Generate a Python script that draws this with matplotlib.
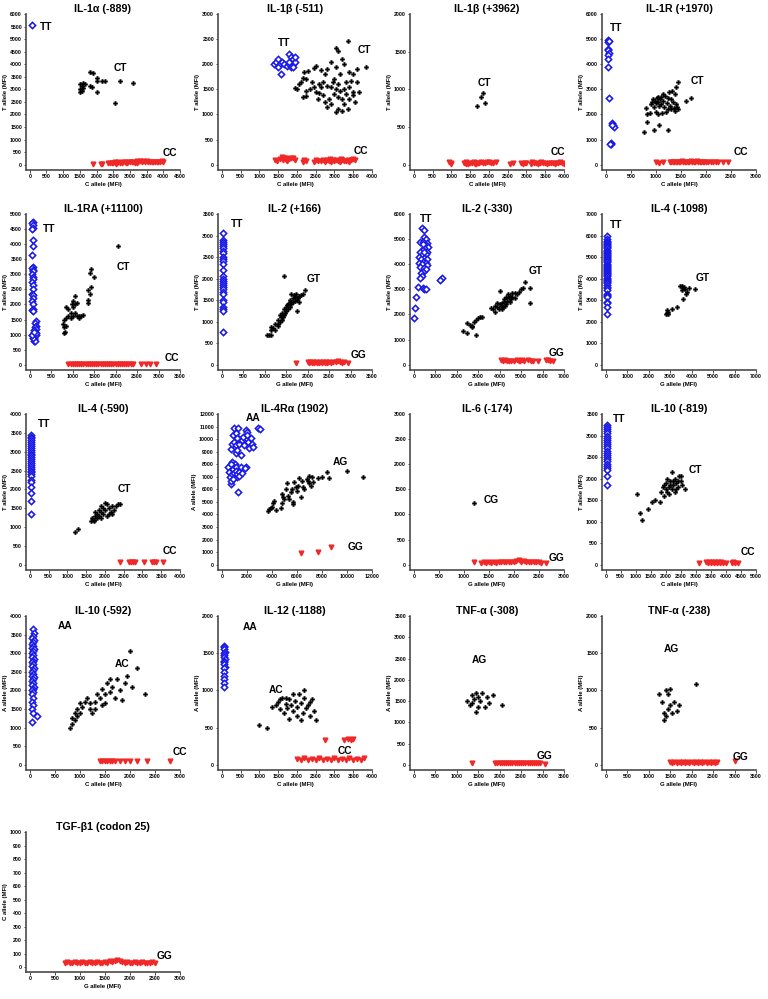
import matplotlib
matplotlib.use("Agg")
import matplotlib.pyplot as plt

plt.rcParams['font.family'] = ['Liberation Sans', 'DejaVu Sans']
plt.rcParams['font.weight'] = 'bold'

# ---------------- data ----------------
il1a_889_tt = [(80, 5550)]
il1a_889_ct = [(1800, 3700), (1900, 3650), (2000, 3450), (2000, 3350), (2150, 3350), (2250, 3320),
               (2700, 3330), (3100, 3270), (1500, 3200), (1550, 3150), (1600, 3250), (1650, 3200),
               (1500, 3000), (1550, 2950), (1500, 2880), (1800, 3150), (1850, 3100), (2000, 2880),
               (2550, 2450), (1600, 3050)]
il1a_889_cc = [(1880, 40), (2120, 40), (2150, 30), (2350, 70), (2400, 60), (2450, 80), (2500, 50), (2550, 90),
               (2600, 70), (2650, 100), (2700, 80), (2750, 60), (2800, 110), (2850, 90), (2900, 70), (2950, 100),
               (3000, 120), (3050, 90), (3100, 110), (3150, 80), (3200, 130), (3250, 100), (3300, 150), (3350, 120),
               (3400, 140), (3450, 110), (3500, 130), (3550, 100), (3600, 120), (3650, 90), (3700, 110), (3750, 100),
               (3800, 120), (3850, 90), (3900, 110), (3950, 130), (4000, 110), (2580, 40), (2880, 50), (3220, 60)]

il1b_511_tt = [(1400, 2000), (1450, 2050), (1500, 2100), (1550, 2000), (1580, 1800), (1600, 2050), (1650, 2000),
               (1500, 1950), (1750, 1970), (1780, 2000), (1800, 2200), (1850, 2150), (1900, 2100), (1900, 2000),
               (1850, 1950), (1950, 2050), (1800, 2050), (1900, 1950), (1950, 2150)]
il1b_511_ct = [(3370, 2470), (3050, 2320), (3100, 2270), (3200, 2100), (2900, 2050), (3250, 2000), (3050, 1950),
               (3850, 1940), (3600, 1900), (2500, 1960), (2450, 1920), (2300, 1870), (2200, 1850), (2800, 1900),
               (2650, 1880), (2750, 1800), (3400, 1850), (3500, 1800), (3150, 1800), (2150, 1720), (2250, 1700),
               (2100, 1650), (2050, 1600), (1950, 1520), (2000, 1500), (2400, 1650), (2700, 1650), (2600, 1600),
               (3000, 1700), (2950, 1650), (3300, 1650), (3450, 1660), (3600, 1650), (3100, 1600), (2350, 1500),
               (2250, 1470), (2500, 1450), (2600, 1420), (2800, 1560), (2900, 1550), (3050, 1500), (3150, 1470),
               (3250, 1500), (3500, 1450), (3650, 1450), (2150, 1350), (2250, 1370), (2700, 1380), (2850, 1300),
               (3000, 1400), (3100, 1350), (3200, 1300), (3400, 1300), (3500, 1380), (3550, 1250), (2800, 1150),
               (2900, 1200), (2750, 1250), (3050, 1050), (3100, 1100), (3200, 1070), (3350, 1100), (3250, 1200),
               (2650, 1550), (2550, 1300), (3400, 1550), (3300, 1400), (2450, 1550)]
il1b_511_cc = [(1430, 100), (1470, 80), (1550, 120), (1600, 150), (1650, 130), (1700, 100), (1750, 80), (1800, 110),
               (1850, 130), (1900, 140), (1950, 100), (2150, 60), (2200, 90), (2250, 70), (2450, 60), (2500, 100),
               (2550, 80), (2650, 80), (2700, 100), (2750, 60), (2800, 90), (2850, 80), (2900, 60), (2950, 90),
               (3000, 70), (3050, 100), (3100, 80), (3150, 60), (3200, 90), (3250, 80), (3300, 70), (3350, 100),
               (3400, 60), (3450, 90), (3500, 110), (3550, 100), (1620, 90), (1720, 140), (2880, 110), (3180, 110)]

il1b_3962_ct = [(1680, 780), (1800, 900), (1850, 950), (1900, 820)]
il1b_3962_cc = [(950, 40), (980, 20), (1000, 10), (1350, 20), (1400, 30), (1450, 15), (1500, 25), (1550, 20),
                (1600, 30), (1650, 15), (1700, 25), (1750, 20), (1800, 30), (1850, 20), (1900, 25), (1950, 40),
                (2000, 30), (2050, 20), (2100, 25), (2200, 30), (2550, 15), (2650, 20), (2850, 20), (2900, 15),
                (2950, 25), (3000, 20), (3150, 30), (3200, 20), (3250, 25), (3300, 15), (3350, 20), (3400, 30),
                (3450, 20), (3500, 25), (3550, 15), (3600, 20), (3650, 25), (3700, 20), (3750, 15), (3800, 25),
                (3850, 20), (3900, 30), (3950, 20), (4000, 15), (1380, 10), (1620, 10), (3120, 10)]

il1r_1970_tt = [(40, 4950), (50, 4900), (60, 4920), (50, 4600), (40, 4550), (60, 4450), (50, 4350), (50, 4200),
                (40, 3880), (60, 2650), (120, 1650), (150, 1580), (160, 1500), (130, 1600), (100, 850), (110, 820),
                (90, 830)]
il1r_1970_ct = [(760, 1300), (800, 2250), (820, 2000), (830, 1700), (880, 2050), (900, 2400), (920, 2500),
                (950, 2600), (960, 1400), (970, 2300), (980, 2550), (1000, 2450), (1000, 2100), (1020, 2650),
                (1040, 2700), (1050, 2500), (1060, 2350), (1070, 1600), (1080, 2600), (1100, 2700), (1100, 2400),
                (1120, 2050), (1150, 2550), (1160, 2300), (1180, 2750), (1200, 2100), (1220, 2450), (1240, 2200),
                (1250, 1400), (1260, 2900), (1280, 2350), (1300, 2600), (1300, 2200), (1320, 2950), (1340, 2500),
                (1360, 2250), (1380, 2150), (1400, 3100), (1400, 2400), (1420, 2300), (1450, 3300), (1450, 2200),
                (1380, 2800), (1600, 2550), (1700, 2650), (1150, 2800), (1050, 2000), (1250, 2650)]
il1r_1970_cc = [(1000, 100), (1060, 80), (1150, 90), (1280, 110), (1310, 90), (1340, 120), (1370, 100),
                (1400, 110), (1430, 90), (1460, 120), (1490, 100), (1520, 130), (1550, 110), (1580, 100),
                (1610, 120), (1640, 90), (1670, 110), (1700, 130), (1730, 100), (1760, 120), (1790, 110),
                (1820, 130), (1850, 100), (1880, 120), (1910, 110), (1940, 90), (1970, 120), (2000, 100),
                (2050, 110), (2100, 90), (2150, 120), (2200, 100), (2250, 90), (2350, 100), (2450, 90)]

il1ra_tt = [(70, 4750), (60, 4700), (80, 4650), (70, 4550), (60, 4500), (80, 4150), (70, 3950), (60, 3650),
            (70, 3250), (60, 3200), (80, 3150), (70, 3100), (60, 3000), (80, 2900), (70, 2850), (60, 2750),
            (80, 2650), (70, 2500), (60, 2350), (80, 2300), (70, 2200), (60, 2100), (70, 2000), (80, 1850),
            (60, 1800), (70, 1780), (150, 1450), (130, 1400), (140, 1300), (120, 1250), (150, 1200), (100, 1150),
            (130, 1100), (60, 1000), (80, 950), (100, 900), (110, 850), (90, 800), (120, 780), (70, 880),
            (150, 1000), (140, 1050), (50, 980), (110, 1080)]
il1ra_ct = [(2050, 3950), (1420, 3180), (1400, 3050), (1500, 2900), (1430, 2580), (1400, 2350), (1350, 2480),
            (1350, 2150), (1350, 2050), (1050, 2280), (1000, 2100), (1050, 2000), (1100, 2050), (980, 2000),
            (1000, 1900), (850, 1900), (900, 1850), (1250, 1650), (1100, 1600), (1150, 1550), (1000, 1600),
            (950, 1550), (900, 1600), (850, 1550), (800, 1500), (780, 1350), (800, 1250), (850, 1300),
            (820, 1100), (800, 1050), (950, 1700), (1050, 1700), (1150, 1620), (1200, 1620)]
il1ra_cc = [(900, 30), (950, 30), (1000, 30), (1050, 30), (1100, 30), (1150, 30), (1200, 30), (1250, 30),
            (1300, 30), (1350, 30), (1400, 30), (1450, 30), (1500, 30), (1550, 30), (1600, 30), (1650, 30),
            (1700, 30), (1750, 30), (1800, 30), (1850, 30), (1900, 30), (1950, 30), (2000, 30), (2050, 30),
            (2100, 30), (2150, 30), (2200, 30), (2250, 30), (2300, 30), (2350, 30), (2400, 30), (2600, 30),
            (2700, 30), (2800, 30), (2950, 30)]

il2_166_tt = [(30, 3050), (30, 2900), (30, 2850), (30, 2800), (30, 2750), (30, 2700), (30, 2650), (30, 2600),
              (30, 2500), (30, 2450), (30, 2400), (30, 2350), (30, 2200), (30, 2050), (30, 2000), (30, 1950),
              (30, 1900), (30, 1850), (30, 1800), (30, 1750), (30, 1700), (30, 1650), (30, 1500), (30, 1450),
              (30, 1350), (30, 1300), (30, 1250), (30, 750)]
il2_166_gt = [(1450, 2050), (1950, 1730), (1900, 1650), (1850, 1620), (1800, 1600), (1780, 1550), (1750, 1500),
              (1700, 1580), (1700, 1480), (1650, 1550), (1650, 1450), (1620, 1400), (1600, 1500), (1600, 1350),
              (1580, 1450), (1550, 1420), (1550, 1300), (1530, 1380), (1500, 1350), (1500, 1250), (1480, 1200),
              (1450, 1300), (1450, 1150), (1420, 1100), (1400, 1200), (1400, 1050), (1380, 1100), (1350, 1000),
              (1350, 1150), (1320, 950), (1300, 1050), (1300, 900), (1250, 950), (1250, 800), (1200, 850),
              (1150, 870), (1150, 800), (1100, 700), (1050, 680), (1150, 700), (1750, 1250), (1800, 1450),
              (1680, 1620), (1620, 1650), (1720, 1650)]
il2_166_gg = [(1730, 30), (2000, 70), (2030, 50), (2060, 60), (2100, 40), (2130, 60), (2160, 50), (2200, 70),
              (2230, 50), (2260, 40), (2300, 60), (2330, 50), (2360, 70), (2400, 50), (2430, 60), (2460, 40),
              (2500, 60), (2550, 50), (2600, 70), (2650, 60), (2700, 80), (2750, 60), (2800, 50), (2850, 70),
              (2950, 30)]

il2_330_tt = [(400, 5450), (480, 5350), (500, 5100), (550, 5000), (300, 4900), (450, 4900), (600, 4850),
              (550, 4750), (650, 4700), (500, 4650), (450, 4550), (300, 4500), (600, 4500), (550, 4400),
              (400, 4350), (250, 4300), (500, 4250), (600, 4200), (350, 4200), (450, 4100), (550, 4050),
              (250, 4050), (400, 4000), (300, 3900), (600, 3950), (500, 3850), (550, 3800), (450, 3700),
              (350, 3650), (400, 3550), (300, 3450), (1300, 3450), (1200, 3380), (200, 3100), (450, 3050),
              (500, 3000), (550, 3000), (100, 2700), (50, 2250), (30, 1850), (500, 4500), (450, 4800)]
il2_330_gt = [(2300, 1350), (2500, 1250), (2500, 1650), (2600, 1600), (2700, 1550), (2700, 1500), (2900, 1200),
              (2800, 1700), (2900, 1800), (3000, 1850), (3100, 1900), (3200, 1900), (3600, 2250), (3700, 2200),
              (3800, 2100), (3800, 2350), (3900, 2300), (3950, 2200), (4000, 2400), (4050, 2350), (4000, 2950),
              (4100, 2450), (4150, 2300), (4200, 2500), (4200, 2600), (4300, 2400), (4300, 2700), (4350, 2550),
              (4400, 2800), (4450, 2650), (4500, 2500), (4500, 2750), (4550, 2600), (4600, 2700), (4700, 2650),
              (4700, 2850), (4800, 2800), (4900, 2900), (5000, 3000), (5100, 3050), (5200, 3300), (5400, 3050),
              (5400, 2450), (4100, 2200), (4250, 2350), (3900, 2450), (4600, 2850)]
il2_330_gg = [(4050, 180), (4150, 150), (4250, 170), (4350, 140), (4450, 160), (4550, 140), (4650, 150),
              (4800, 170), (4900, 140), (4950, 160), (5050, 170), (5150, 150), (5300, 170), (5450, 160),
              (5550, 150), (5800, 140), (6150, 200), (6250, 180), (6350, 160), (6500, 150)]

il4_1098_tt = [(50, 6000), (50, 5850), (50, 5750), (50, 5700), (50, 5650), (50, 5600), (50, 5550), (50, 5500),
               (50, 5450), (50, 5400), (50, 5350), (50, 5300), (50, 5250), (50, 5200), (50, 5150), (50, 5100),
               (50, 5050), (50, 5000), (50, 4950), (50, 4900), (50, 4850), (50, 4800), (50, 4750), (50, 4700),
               (50, 4650), (50, 4600), (50, 4550), (50, 4500), (50, 4450), (50, 4400), (50, 4350), (50, 4300),
               (50, 4250), (50, 4200), (50, 4150), (50, 4100), (50, 4050), (50, 4000), (50, 3950), (50, 3900),
               (50, 3850), (50, 3800), (50, 3700), (50, 3600), (50, 3550), (50, 3450), (50, 3300), (50, 3250),
               (50, 3200), (50, 3150), (50, 2900), (50, 2850), (50, 2700), (50, 2350)]
il4_1098_gt = [(2800, 2350), (2850, 2400), (2900, 2450), (2850, 2550), (2900, 2350), (3100, 2600), (3300, 2700),
               (3450, 3650), (3550, 3650), (3600, 3550), (3550, 3450), (3700, 3500), (3800, 3400), (3750, 3300),
               (3900, 3550), (4150, 3500), (3600, 3050), (3650, 3600)]

il4_590_tt = [(30, 3450), (30, 3400), (30, 3350), (30, 3300), (30, 3250), (30, 3200), (30, 3150), (30, 3100),
              (30, 3050), (30, 3000), (30, 2950), (30, 2900), (30, 2850), (30, 2800), (30, 2750), (30, 2700),
              (30, 2650), (30, 2600), (30, 2550), (30, 2500), (30, 2450), (30, 2400), (30, 2350), (30, 2250),
              (30, 2200), (30, 2050), (30, 1900), (30, 1700), (30, 1350)]
il4_590_ct = [(1200, 880), (1280, 950), (1620, 1150), (1650, 1250), (1700, 1200), (1750, 1300), (1750, 1400),
              (1800, 1350), (1800, 1250), (1850, 1450), (1850, 1300), (1900, 1550), (1900, 1400), (1950, 1350),
              (1950, 1500), (2000, 1650), (2000, 1450), (2050, 1600), (2050, 1300), (2100, 1500), (2150, 1400),
              (2200, 1550), (2250, 1450), (2300, 1550), (2350, 1600), (2400, 1620), (1900, 1250), (2100, 1350),
              (1700, 1150), (2200, 1350)]
il4_590_cc = [(2400, 80), (2650, 80), (2700, 80), (2750, 80), (2800, 80), (3050, 80), (3250, 80), (3300, 80),
              (3350, 80), (3550, 80)]

il4ra_aa = [(500, 7800), (600, 7400), (650, 7000), (700, 6400), (750, 6700), (800, 7200), (850, 8200),
            (900, 7600), (950, 7900), (1000, 7300), (1050, 8000), (1100, 7800), (1150, 7500), (1200, 7000),
            (1250, 7200), (1300, 5800), (1350, 7400), (1400, 7100), (1500, 7800), (1600, 7300), (700, 9200),
            (800, 9600), (900, 10300), (1000, 9800), (1000, 10900), (1100, 9500), (1150, 8900), (1200, 9100),
            (1300, 10900), (1350, 9600), (1400, 10000), (1500, 8700), (1600, 9900), (1700, 10200), (1800, 9500),
            (1900, 10700), (2000, 10600), (2100, 9800), (2200, 9300), (2300, 10100), (2400, 9600), (2500, 9400),
            (2900, 10900), (3050, 10800), (1100, 10500), (1250, 10100), (2050, 10300), (1950, 7800),
            (1850, 7700), (700, 8000), (900, 6800)]
il4ra_ag = [(3700, 4250), (3800, 4400), (3900, 4500), (4000, 4600), (4100, 4900), (4200, 5050), (4300, 4350),
            (4700, 4500), (4800, 5600), (4850, 4900), (5000, 5200), (5100, 6000), (5200, 6500), (5300, 5500),
            (5400, 5200), (5600, 6000), (5700, 5000), (5700, 4800), (5800, 6600), (5900, 6200), (6000, 5900),
            (6100, 6300), (6200, 6900), (6300, 5400), (6400, 6700), (6500, 6200), (6600, 6000), (6800, 6800),
            (7000, 6500), (7000, 7100), (7100, 6300), (7200, 7000), (7300, 6600), (7700, 6900), (8000, 7000),
            (8400, 7400), (8600, 6900), (10000, 7500), (11300, 7000), (4900, 5400), (6900, 6700), (5500, 5800)]
il4ra_gg = [(6300, 950), (7700, 1050), (8700, 1450)]

il6_cg = [(1200, 1230)]
il6_gg = [(1200, 50), (1350, 40), (1400, 50), (1450, 40), (1500, 50), (1550, 40), (1600, 50), (1650, 40),
          (1700, 60), (1750, 50), (1800, 60), (1850, 50), (1900, 60), (1950, 50), (2000, 60), (2050, 70),
          (2100, 90), (2150, 60), (2200, 70), (2250, 60), (2300, 50), (2350, 60), (2400, 50), (2450, 60),
          (2500, 50), (2550, 40), (2650, 40)]

il10_819_tt = [(50, 3250), (50, 3200), (50, 3150), (50, 3100), (50, 3050), (50, 3000), (50, 2950), (50, 2900),
               (50, 2850), (50, 2800), (50, 2750), (50, 2700), (50, 2650), (50, 2600), (50, 2550), (50, 2500),
               (50, 2450), (50, 2400), (50, 2350), (50, 2300), (50, 2250), (50, 2200), (50, 2050), (50, 1850)]
il10_819_ct = [(1050, 1650), (1150, 1200), (1200, 1050), (1400, 1300), (1550, 1450), (1650, 1500), (1800, 1450),
               (1850, 1700), (1900, 1800), (1950, 1600), (2000, 1750), (2000, 1900), (2050, 1700), (2100, 1800),
               (2100, 1650), (2150, 1950), (2200, 1750), (2200, 2150), (2250, 1850), (2300, 1700), (2300, 2000),
               (2350, 1900), (2400, 1800), (2450, 2050), (2500, 1950), (2550, 1850), (2650, 1750), (2350, 1750),
               (2150, 1850), (1950, 1850), (2050, 2000), (2250, 1950), (2400, 1950), (2500, 2050)]
il10_819_cc = [(3100, 50), (3350, 60), (3400, 50), (3450, 60), (3500, 50), (3550, 60), (3600, 50), (3650, 60),
               (3700, 50), (3750, 60), (3800, 50), (3850, 60), (3900, 50), (4000, 50), (4200, 50), (4250, 60),
               (4300, 50), (4400, 50)]

il10_592_aa = [(60, 3650), (90, 3550), (70, 3450), (50, 3400), (80, 3350), (60, 3300), (40, 3250), (70, 3200),
               (50, 3150), (80, 3100), (60, 3050), (40, 3000), (70, 2950), (50, 2900), (80, 2850), (60, 2800),
               (40, 2750), (70, 2700), (50, 2650), (80, 2600), (60, 2550), (40, 2500), (70, 2450), (50, 2400),
               (80, 2350), (60, 2300), (40, 2250), (70, 2200), (50, 2150), (80, 2100), (60, 2050), (40, 2000),
               (70, 1950), (50, 1900), (60, 1800), (40, 1700), (70, 1600), (50, 1500), (60, 1400), (150, 1300),
               (40, 1150)]
il10_592_ac = [(800, 1000), (850, 1100), (850, 1250), (900, 1200), (900, 1400), (950, 1300), (950, 1500),
               (1000, 1400), (1000, 1650), (1050, 1550), (1100, 1700), (1150, 1800), (1200, 1500), (1200, 1650),
               (1250, 1400), (1300, 1700), (1350, 1900), (1400, 1800), (1450, 2050), (1500, 1650), (1500, 1900),
               (1550, 2200), (1600, 1950), (1650, 2100), (1700, 1800), (1750, 2300), (1800, 2000), (1850, 1750),
               (1900, 2200), (1950, 2400), (2000, 3050), (2050, 2100), (2150, 2600), (2300, 1900), (1300, 1500),
               (1450, 1600), (1600, 2300)]
il10_592_cc = [(1400, 100), (1450, 100), (1500, 100), (1550, 100), (1600, 100), (1650, 100), (1700, 100),
               (1800, 100), (1900, 100), (2000, 100), (2150, 100), (2350, 100), (2800, 100)]

il12_aa = [(60, 1600), (70, 1580), (50, 1550), (80, 1520), (60, 1500), (70, 1480), (50, 1450), (80, 1420),
           (60, 1400), (70, 1380), (50, 1350), (80, 1320), (60, 1300), (70, 1250), (50, 1200), (60, 1150),
           (70, 1100), (60, 1050)]
il12_ac = [(1000, 530), (1200, 500), (1350, 780), (1450, 800), (1500, 850), (1550, 750), (1600, 900), (1650, 700),
           (1700, 820), (1750, 760), (1800, 880), (1850, 800), (1900, 720), (1950, 860), (2000, 780), (2050, 950),
           (2100, 830), (2150, 700), (2200, 900), (2250, 760), (2300, 800), (2350, 650), (2400, 880), (2450, 720),
           (2500, 600), (2200, 1000), (2000, 650), (1800, 620), (1700, 900), (1900, 950), (2350, 850),
           (1550, 880), (2100, 600)]
il12_cc = [(2000, 80), (2100, 60), (2200, 90), (2300, 70), (2400, 80), (2500, 60), (2600, 90), (2700, 70),
           (2800, 80), (2900, 60), (3000, 90), (3100, 70), (3200, 80), (3300, 60), (3400, 90), (3500, 70),
           (3600, 80), (3700, 60), (3800, 90), (2750, 330), (3250, 330), (3350, 340), (3450, 330), (3500, 340)]

tnf_308_ag = [(1250, 1500), (1300, 1400), (1350, 1650), (1400, 1550), (1450, 1250), (1450, 1700), (1500, 1600),
              (1550, 1500), (1600, 1700), (1650, 1350), (1700, 1600), (1750, 1450), (1850, 1650), (2050, 1400),
              (1350, 1450), (1500, 1350)]
tnf_308_gg = [(1350, 50), (1900, 40), (1950, 50), (2000, 40), (2050, 50), (2100, 40), (2150, 50), (2200, 40),
              (2250, 50), (2300, 40), (2350, 50), (2400, 40), (2450, 50), (2500, 40), (2550, 50), (2600, 40),
              (2650, 50), (2700, 40), (2750, 50), (2800, 40), (2850, 50), (2900, 40), (2950, 50), (3050, 30)]

tnf_238_ag = [(1250, 950), (1300, 850), (1350, 700), (1350, 600), (1400, 1000), (1450, 950), (1500, 800),
              (1450, 750), (1550, 700), (1600, 850), (1650, 720), (1700, 800), (2100, 1080), (1400, 650),
              (1500, 1020)]
tnf_238_gg = [(1500, 40), (1550, 30), (1600, 40), (1650, 30), (1700, 40), (1750, 30), (1800, 40), (1850, 30),
              (1900, 40), (1950, 30), (2000, 40), (2050, 30), (2100, 40), (2150, 30), (2200, 40), (2250, 30),
              (2300, 40), (2350, 30), (2400, 40), (2450, 30), (2500, 40), (2550, 30), (2600, 40), (3000, 50)]

tgfb1_gg = [(700, 30), (750, 40), (800, 30), (850, 35), (900, 40), (950, 30), (1000, 35), (1050, 40), (1100, 30),
            (1150, 35), (1200, 40), (1250, 30), (1300, 35), (1350, 40), (1400, 30), (1450, 35), (1500, 40),
            (1550, 30), (1600, 45), (1650, 40), (1700, 50), (1750, 55), (1800, 45), (1850, 40), (1900, 35),
            (1950, 40), (2000, 30), (2050, 35), (2100, 40), (2150, 30), (2200, 35), (2250, 40), (2300, 30),
            (2350, 35), (2400, 30), (2450, 40), (2500, 30)]

# ---------------- panel table ----------------
panels = [
    dict(title='IL-1α (-889)', xl='C allele (MFI)', yl='T allele (MFI)', xmax=4500, xs=500, ymax=6000, ys=500,
         blue=il1a_889_tt, black=il1a_889_ct, red=il1a_889_cc,
         labels=[('TT', 500, 5500), ('CT', 2700, 3850), ('CC', 4200, 480)]),
    dict(title='IL-1β (-511)', xl='C allele (MFI)', yl='T allele (MFI)', xmax=4000, xs=500, ymax=3000, ys=500,
         blue=il1b_511_tt, black=il1b_511_ct, red=il1b_511_cc,
         labels=[('TT', 1660, 2430), ('CT', 3800, 2280), ('CC', 3700, 280)]),
    dict(title='IL-1β (+3962)', xl='C allele (MFI)', yl='T allele (MFI)', xmax=4000, xs=500, ymax=2000, ys=500,
         blue=[], black=il1b_3962_ct, red=il1b_3962_cc,
         labels=[('CT', 1880, 1080), ('CC', 3840, 170)]),
    dict(title='IL-1R (+1970)', xl='C allele (MFI)', yl='T allele (MFI)', xmax=3000, xs=500, ymax=6000, ys=1000,
         blue=il1r_1970_tt, black=il1r_1970_ct, red=il1r_1970_cc,
         labels=[('TT', 200, 5450), ('CT', 1820, 3350), ('CC', 2700, 500)]),
    dict(title='IL-1RA (+11100)', xl='C allele (MFI)', yl='T allele (MFI)', xmax=3500, xs=500, ymax=5000, ys=500,
         blue=il1ra_tt, black=il1ra_ct, red=il1ra_cc,
         labels=[('TT', 440, 4500), ('CT', 2170, 3250), ('CC', 3300, 220)]),
    dict(title='IL-2 (+166)', xl='G allele (MFI)', yl='T allele (MFI)', xmax=3500, xs=500, ymax=3500, ys=500,
         blue=il2_166_tt, black=il2_166_gt, red=il2_166_gg,
         labels=[('TT', 360, 3270), ('GT', 2130, 1980), ('GG', 3190, 230)]),
    dict(title='IL-2 (-330)', xl='G allele (MFI)', yl='T allele (MFI)', xmax=7000, xs=1000, ymax=6000, ys=1000,
         blue=il2_330_tt, black=il2_330_gt, red=il2_330_gg,
         labels=[('TT', 580, 5800), ('GT', 5700, 3720), ('GG', 6670, 480)]),
    dict(title='IL-4 (-1098)', xl='G allele (MFI)', yl='T allele (MFI)', xmax=7000, xs=1000, ymax=7000, ys=1000,
         blue=il4_1098_tt, black=il4_1098_gt, red=[],
         labels=[('TT', 460, 6500), ('GT', 4500, 4050)]),
    dict(title='IL-4 (-590)', xl='C allele (MFI)', yl='T allele (MFI)', xmax=4000, xs=500, ymax=4000, ys=500,
         blue=il4_590_tt, black=il4_590_ct, red=il4_590_cc,
         labels=[('TT', 370, 3730), ('CT', 2530, 2000), ('CC', 3720, 360)]),
    dict(title='IL-4Rα (1902)', xl='G allele (MFI)', yl='A allele (MFI)', xmax=12000, xs=2000, ymax=12000, ys=1000,
         blue=il4ra_aa, black=il4ra_ag, red=il4ra_gg,
         labels=[('AA', 2520, 11690), ('AG', 9480, 8200), ('GG', 10720, 1440)]),
    dict(title='IL-6 (-174)', xl='G allele (MFI)', yl='', xmax=3000, xs=500, ymax=3000, ys=500,
         blue=[], black=il6_cg, red=il6_gg,
         labels=[('CG', 1540, 1290), ('GG', 2860, 140)]),
    dict(title='IL-10 (-819)', xl='C allele (MFI)', yl='T allele (MFI)', xmax=5000, xs=500, ymax=3500, ys=500,
         blue=il10_819_tt, black=il10_819_ct, red=il10_819_cc,
         labels=[('TT', 440, 3380), ('CT', 2970, 2200), ('CC', 4720, 300)]),
    dict(title='IL-10 (-592)', xl='C allele (MFI)', yl='A allele (MFI)', xmax=3000, xs=500, ymax=4000, ys=500,
         blue=il10_592_aa, black=il10_592_ac, red=il10_592_cc,
         labels=[('AA', 700, 3730), ('AC', 1840, 2720), ('CC', 3000, 350)]),
    dict(title='IL-12 (-1188)', xl='C allele (MFI)', yl='A allele (MFI)', xmax=4000, xs=500, ymax=2000, ys=500,
         blue=il12_aa, black=il12_ac, red=il12_cc,
         labels=[('AA', 750, 1850), ('AC', 1440, 1010), ('CC', 3280, 180)]),
    dict(title='TNF-α (-308)', xl='G allele (MFI)', yl='A allele (MFI)', xmax=3500, xs=500, ymax=3500, ys=500,
         blue=[], black=tnf_308_ag, red=tnf_308_gg,
         labels=[('AG', 1540, 2470), ('GG', 3050, 200)]),
    dict(title='TNF-α (-238)', xl='G allele (MFI)', yl='A allele (MFI)', xmax=3500, xs=500, ymax=2000, ys=500,
         blue=[], black=tnf_238_ag, red=tnf_238_gg,
         labels=[('AG', 1540, 1550), ('GG', 3150, 110)]),
    dict(title='TGF-β1 (codon 25)', xl='G allele (MFI)', yl='C allele (MFI)', xmax=3000, xs=500, ymax=1000, ys=100,
         blue=[], black=[], red=tgfb1_gg,
         labels=[('GG', 2700, 80)]),
]

# ---------------- layout (pixels) ----------------
W, H = 768, 999
col_left = [26, 218, 410, 602]
ax_w = 154
rows = [(14, 170), (214, 370), (414, 570), (616, 770), (832, 972)]

BLUE = '#1a1ae6'
RED = '#f02828'
SPINE = '#4a4a4a'

fig = plt.figure(figsize=(W / 100, H / 100), dpi=100)
fig.patch.set_facecolor('white')

for i, p in enumerate(panels):
    r, c = divmod(i, 4)
    top, bot = rows[r]
    ax = fig.add_axes([col_left[c] / W, 1 - bot / H, ax_w / W, (bot - top) / H])
    if p['red']:
        x, y = zip(*p['red'])
        ax.plot(x, y, linestyle='none', marker='v', ms=3.4, color=RED, mec=RED, zorder=3)
    if p['black']:
        x, y = zip(*p['black'])
        ax.plot(x, y, linestyle='none', marker='P', ms=3.2, color='black', mec='black', mew=0.2, zorder=4)
    if p['blue']:
        x, y = zip(*p['blue'])
        ax.plot(x, y, linestyle='none', marker='D', ms=3.2, mfc='white', mec=BLUE, mew=1.15, zorder=5)
    xm, ym = p['xmax'], p['ymax']
    ax.set_xlim(-0.025 * xm, xm)
    ax.set_ylim(-0.035 * ym, ym)
    xt = list(range(0, xm + 1, p['xs']))
    yt = list(range(0, ym + 1, p['ys']))
    ax.set_xticks(xt)
    ax.set_yticks(yt)
    ax.set_xticklabels([str(v) for v in xt], fontsize=3.7, fontweight='bold')
    ax.set_yticklabels([str(v) for v in yt], fontsize=3.7, fontweight='bold')
    for s in ('top', 'right'):
        ax.spines[s].set_visible(False)
    for s in ('left', 'bottom'):
        ax.spines[s].set_color(SPINE)
        ax.spines[s].set_linewidth(1.2)
    ax.tick_params(direction='out', length=1.8, width=0.7, pad=1, colors=SPINE, labelcolor='black')
    ax.set_xlabel(p['xl'], fontsize=4.3, fontweight='bold', labelpad=2)
    if p['yl']:
        ax.set_ylabel(p['yl'], fontsize=4.3, fontweight='bold', labelpad=1.5)
    ax.set_title(p['title'], fontsize=7.7, fontweight='bold', pad=1.5)
    for txt, tx, ty in p['labels']:
        ax.text(tx, ty, txt, fontsize=7.3, fontweight='bold', ha='center', va='center', clip_on=False)

fig.savefig('out.png', dpi=100, facecolor='white')
